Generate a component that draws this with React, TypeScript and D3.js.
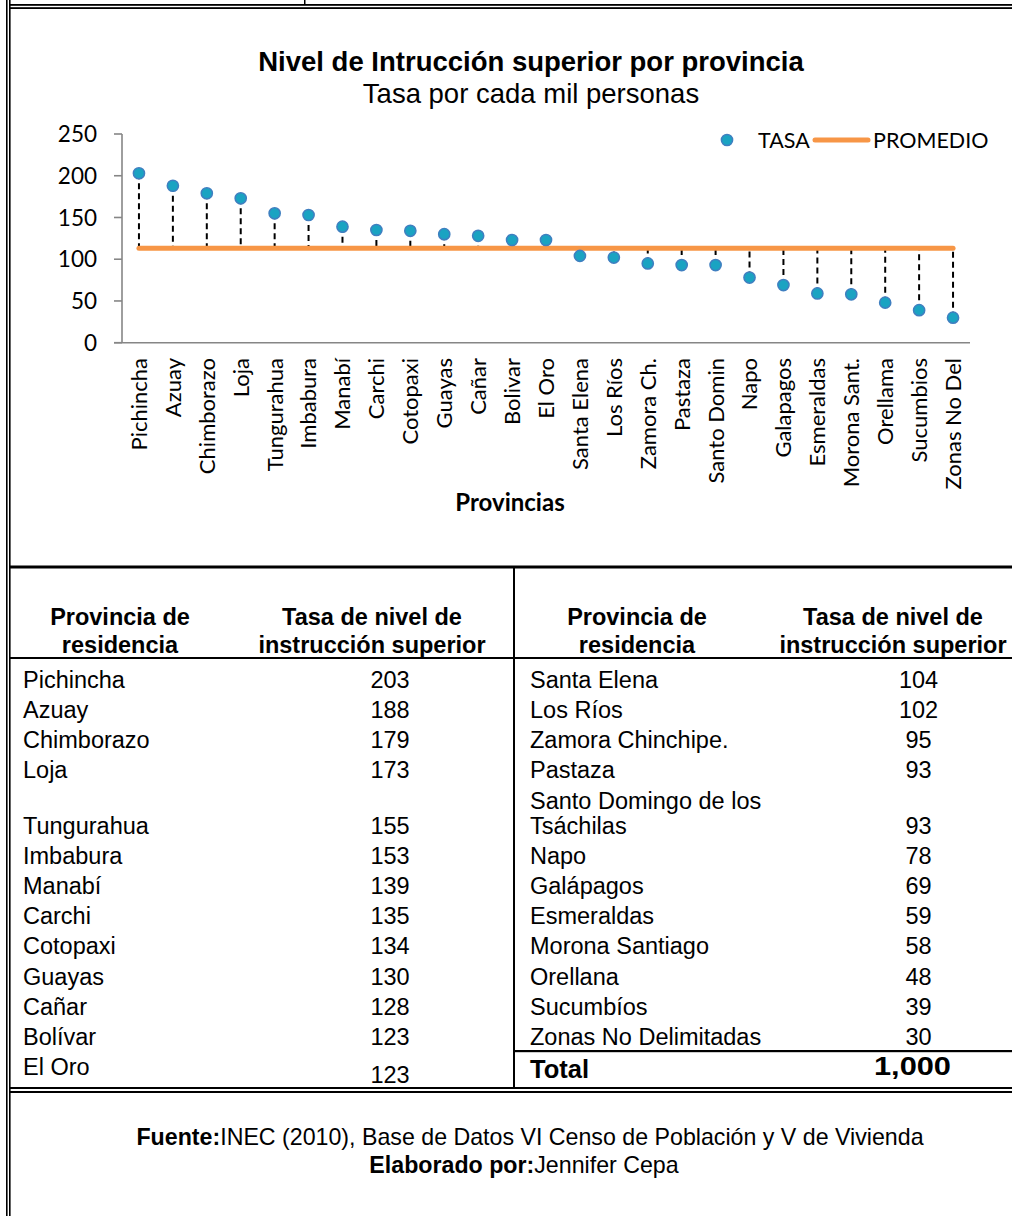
import React from "react";
import * as d3 from "d3";

const categories = ["Pichincha","Azuay","Chimborazo","Loja","Tungurahua","Imbabura","Manabí","Carchi","Cotopaxi","Guayas","Cañar","Bolivar","El Oro","Santa Elena","Los Ríos","Zamora Ch.","Pastaza","Santo Domin","Napo","Galapagos","Esmeraldas","Morona Sant.","Orellama","Sucumbios","Zonas No Del"];
const tasa = [203,188,179,173,155,153,139,135,134,130,128,123,123,104,102,95,93,93,78,69,59,58,48,39,30];
const promedio = 113;
const yTicks = [0,50,100,150,200,250];

const leftNames = ["Pichincha","Azuay","Chimborazo","Loja","Tungurahua","Imbabura","Manabí","Carchi","Cotopaxi","Guayas","Cañar","Bolívar","El Oro"];
const leftValues = [203,188,179,173,155,153,139,135,134,130,128,123,123];
const rightNames = ["Santa Elena","Los Ríos","Zamora Chinchipe.","Pastaza","Santo Domingo de los|Tsáchilas","Napo","Galápagos","Esmeraldas","Morona Santiago","Orellana","Sucumbíos","Zonas No Delimitadas"];
const rightValues = [104,102,95,93,93,78,69,59,58,48,39,30];
const totalLabel = "Total";
const totalValue = "1,000";
const headerCol1 = ["Provincia de","residencia"];
const headerCol2 = ["Tasa de nivel de","instrucción superior"];

const W = 1012, H = 1216;
const plot = { left: 122, right: 970, top: 134, bottom: 342.7 };
const CAL = "Lato, 'Open Sans', sans-serif";
const ARIAL = "'Liberation Sans', Arial, sans-serif";

function rowCenter(i: number) {
  return i < 4 ? 679 + i * 30.3 : 825 + (i - 4) * 30.2;
}

export default function App() {
  const x = d3.scaleBand<string>().domain(categories).range([plot.left, plot.right]);
  const y = d3.scaleLinear().domain([0, 250]).range([plot.bottom, plot.top]);
  const cx = (c: string) => (x(c) as number) + x.bandwidth() / 2;
  const avgLine = d3.line<string>().x(d => cx(d)).y(() => y(promedio));

  const ptFill = "#1aa3c2";
  const ptStroke = "#3f7fc0";
  const orange = "#f79646";
  const axisGray = "#868686";

  return (
    <svg width={W} height={H} style={{ position: "absolute", left: 0, top: 0, background: "#fff" }}>
      <rect x={0} y={0} width={W} height={H} fill="#fff" />
      {/* frame */}
      <rect x={6} y={0} width={1.6} height={H} fill="#000" />
      <rect x={9} y={0} width={1.6} height={H} fill="#000" />
      <rect x={9} y={4} width={W} height={1.8} fill="#000" />
      <rect x={9} y={7.2} width={W} height={1.8} fill="#000" />
      <rect x={304} y={0} width={1.5} height={5} fill="#000" />

      {/* titles */}
      <text x={531} y={71} textAnchor="middle" fontFamily={ARIAL} fontWeight="bold" fontSize={27.5} fill="#000">Nivel de Intrucción superior por provincia</text>
      <text x={531} y={103} textAnchor="middle" fontFamily={ARIAL} fontSize={27.5} fill="#000">Tasa por cada mil personas</text>

      {/* y axis */}
      <line x1={plot.left} x2={plot.left} y1={plot.top} y2={plot.bottom} stroke={axisGray} strokeWidth={1.6} />
      {yTicks.map(t => (
        <g key={t}>
          <line x1={114} x2={plot.left} y1={y(t)} y2={y(t)} stroke={axisGray} strokeWidth={1.6} />
          <text x={97} y={y(t)} dy="0.36em" textAnchor="end" fontFamily={CAL} fontSize={22.5} fill="#000">{t}</text>
        </g>
      ))}
      {/* x axis */}
      <line x1={114} x2={plot.right} y1={plot.bottom} y2={plot.bottom} stroke={axisGray} strokeWidth={1.6} />
      {categories.map(c => (
        <text key={c} transform={`translate(${cx(c)},358) rotate(-90)`} dy="0.36em" textAnchor="end" fontFamily={CAL} fontSize={22} fill="#000">{c}</text>
      ))}
      <text x={510} y={511} textAnchor="middle" fontFamily={CAL} fontWeight="bold" fontSize={24} fill="#000">Provincias</text>

      {/* drop lines */}
      {categories.map((c, i) => (
        <line key={c} x1={cx(c)} x2={cx(c)} y1={y(tasa[i])} y2={y(promedio)} stroke="#000" strokeWidth={2} strokeDasharray="6,4" />
      ))}
      <path d={avgLine(categories) || ""} stroke={orange} strokeWidth={5} strokeLinecap="round" fill="none" />
      {categories.map((c, i) => (
        <circle key={c} cx={cx(c)} cy={y(tasa[i])} r={5.6} fill={ptFill} stroke={ptStroke} strokeWidth={1.5} />
      ))}

      {/* legend */}
      <circle cx={727} cy={140} r={5.6} fill={ptFill} stroke={ptStroke} strokeWidth={1.5} />
      <text x={758} y={140} dy="0.36em" fontFamily={CAL} fontSize={21.5} fill="#000">TASA</text>
      <line x1={815} x2={868} y1={140} y2={140} stroke={orange} strokeWidth={5} strokeLinecap="round" />
      <text x={873} y={140} dy="0.36em" fontFamily={CAL} fontSize={21.5} fill="#000">PROMEDIO</text>

      {/* table lines */}
      <rect x={10} y={565.5} width={W} height={3} fill="#000" />
      <rect x={10} y={657} width={W} height={2} fill="#000" />
      <rect x={513} y={567} width={2} height={521} fill="#000" />
      <rect x={513} y={1050} width={W} height={2.2} fill="#000" />
      <rect x={10} y={1087} width={W} height={2} fill="#000" />
      <rect x={10} y={1091} width={W} height={2} fill="#000" />

      {/* headers */}
      {[{ c1: 120, c2: 372 }, { c1: 637, c2: 893 }].map((h, k) => (
        <g key={k} fontFamily={ARIAL} fontWeight="bold" fontSize={23.5} textAnchor="middle" fill="#000">
          {headerCol1.map((t, j) => <text key={"a" + j} x={h.c1} y={624.5 + j * 28}>{t}</text>)}
          {headerCol2.map((t, j) => <text key={"b" + j} x={h.c2} y={624.5 + j * 28}>{t}</text>)}
        </g>
      ))}

      {/* rows */}
      <g fontFamily={ARIAL} fontSize={23.5} fill="#000">
        {leftNames.map((n, i) => (
          <g key={n}>
            <text x={23} y={rowCenter(i) + 8.5}>{n}</text>
            <text x={390} y={rowCenter(i) + 8.5 + (i === leftNames.length - 1 ? 8 : 0)} textAnchor="middle">{leftValues[i]}</text>
          </g>
        ))}
        {rightNames.map((n, i) => {
          const parts = n.split("|");
          return (
            <g key={n}>
              {parts.map((p, j) => (
                <text key={j} x={530} y={rowCenter(i) + 8.5 - (parts.length - 1 - j) * 25}>{p}</text>
              ))}
              <text x={918.5} y={rowCenter(i) + 8.5} textAnchor="middle">{rightValues[i]}</text>
            </g>
          );
        })}
        <text x={530} y={1069 + 9} fontWeight="bold" fontSize={25.5}>{totalLabel}</text>
        <text x={874} y={1066 + 9} fontWeight="bold" fontSize={26} textLength={77} lengthAdjust="spacingAndGlyphs">{totalValue}</text>
      </g>

      {/* footer */}
      <text x={530} y={1145} textAnchor="middle" fontFamily={ARIAL} fontSize={23.2} fill="#000">
        <tspan fontWeight="bold">Fuente:</tspan>INEC (2010), Base de Datos VI Censo de Población y V de Vivienda
      </text>
      <text x={524} y={1173} textAnchor="middle" fontFamily={ARIAL} fontSize={23.2} fill="#000">
        <tspan fontWeight="bold">Elaborado por:</tspan>Jennifer Cepa
      </text>
    </svg>
  );
}
